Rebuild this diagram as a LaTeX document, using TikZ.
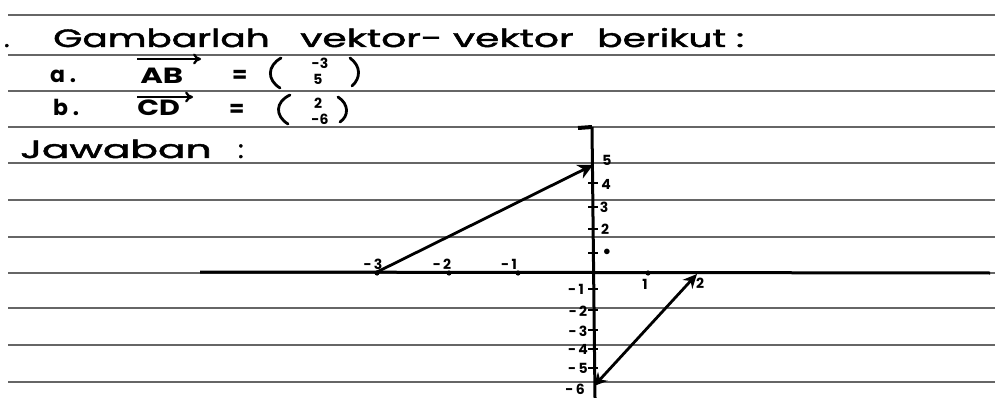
\documentclass[tikz,border=0pt]{standalone}
\usepackage{fontspec}
\setmainfont{Poppins}
\usetikzlibrary{arrows.meta}
\begin{document}
\begin{tikzpicture}[x=1pt,y=-1pt,
  rule/.style={draw=black!60, line width=1.3pt},
  hw/.style={font=\fontsize{25}{25}\selectfont\addfontfeatures{FakeBold=1.6}, inner sep=0pt, anchor=base west},
  mid/.style={font=\fontsize{22}{22}\selectfont\bfseries, inner sep=0pt, anchor=base west},
  ent/.style={font=\fontsize{14}{14}\selectfont\bfseries, inner sep=0pt},
  lab/.style={font=\fontsize{14}{14}\selectfont\bfseries, inner sep=0pt},
  paren/.style={line width=2.8pt, line cap=round},
  axis/.style={line width=3pt},
  vec/.style={line width=2.8pt},
  tick/.style={line width=1.8pt}]
\useasboundingbox (0,0) rectangle (995,398);
\fill[white] (0,0) rectangle (995,398);
% notebook rules
\foreach \y in {15,55,91,127,163,200,237,273,308,345,382}
  \draw[rule] (8,\y) -- (995,\y);
% title
\node[hw] (t0) at (4,47) {.};
\node[hw, xscale=1.5] (t1) at (53,47) {Gambarlah};
\node[hw, xscale=1.57] (t2) at (300,47) {vektor- vektor};
\node[hw, xscale=1.5] (t3) at (597,47) {berikut :};
% item a
\node[mid] (a) at (50,83) {a .};
\node[mid, xscale=1.4] (ab) at (140,84) {AB};
\coordinate (ab1) at (137,59);
\coordinate (ab2) at (201,59);
\draw[line width=2.3pt, -{To[length=8pt,width=11pt]}] (ab1) -- (ab2);
\node[mid] (eqa) at (232,83) {=};
\draw[paren] (281,58) .. controls (267,66) and (267,80) .. (280,88);
\draw[paren] (350,58) .. controls (361,66) and (361,78) .. (352,86);
\node[ent] (am3) at (320,63) {-3};
\node[ent] (a5) at (318,79) {5};
% item b
\node[mid] (b) at (53,116) {b .};
\node[mid, xscale=1.3] (cd) at (137,116) {CD};
\coordinate (cd1) at (137,97);
\coordinate (cd2) at (193,97);
\draw[line width=2.3pt, -{To[length=8pt,width=11pt]}] (cd1) -- (cd2);
\node[mid] (eqb) at (229,117) {=};
\draw[paren] (290,95) .. controls (275,102) and (275,116) .. (288,124);
\draw[paren] (338,97) .. controls (349,104) and (349,116) .. (340,122);
\node[ent] (b2) at (318,103) {2};
\node[ent] (bm6) at (320,119) {-6};
% answer
\node[hw, xscale=1.63] (jw) at (20,158) {Jawaban};
\node[hw] (jc) at (238,158) {:};
% axes
\coordinate (O) at (593,273);
\coordinate (xl) at (200,272);
\coordinate (xr) at (990,273);
\coordinate (yt) at (592,127);
\coordinate (yb) at (595,398);
\coordinate (ytb) at (578,128);
\draw[axis] (xl) -- (xr);
\draw[axis] (yb) -- (yt);
\draw[line width=4pt] (ytb) -- (yt);
% x ticks
\foreach \x in {377,449,518,648} {
  \fill (\x,273) circle (2.6pt);
}
\node[lab] (xm3) at (373,264) {-\,3};
\node[lab] (xm2) at (442,264) {-\,2};
\node[lab] (xm1) at (509,264) {-\,1};
\node[lab] (xp1) at (645,284) {1};
\node[lab] (xp2) at (700,283) {2};
% y ticks
\foreach \y in {183,207,229,253,289,310,330,349,368} {
  \draw[tick] (588,\y) -- (598,\y);
}
\node[lab] (y5) at (607,160) {5};
\node[lab] (y4) at (606,184) {4};
\node[lab] (y3) at (604,207) {3};
\node[lab] (y2) at (605,229) {2};
\node[lab] (y1) at (607,252) {$\bullet$};
\node[lab] (ym1) at (576,289) {-\,1};
\node[lab] (ym2) at (578,311) {-\,2};
\node[lab] (ym3) at (578,331) {-\,3};
\node[lab] (ym4) at (578,349) {-\,4};
\node[lab] (ym5) at (578,368) {-\,5};
\node[lab] (ym6) at (575,389) {-\,6};
% vectors
\coordinate (A) at (377,272);
\coordinate (B) at (593,165);
\coordinate (C) at (594,386);
\coordinate (D) at (697,274);
\draw[vec, -{Stealth[length=15pt,width=15pt]}] (A) -- (B);
\draw[vec, {Stealth[length=13pt,width=13pt]}-{Stealth[length=14pt,width=13pt]}] (C) -- (D);
\end{tikzpicture}
\end{document}
